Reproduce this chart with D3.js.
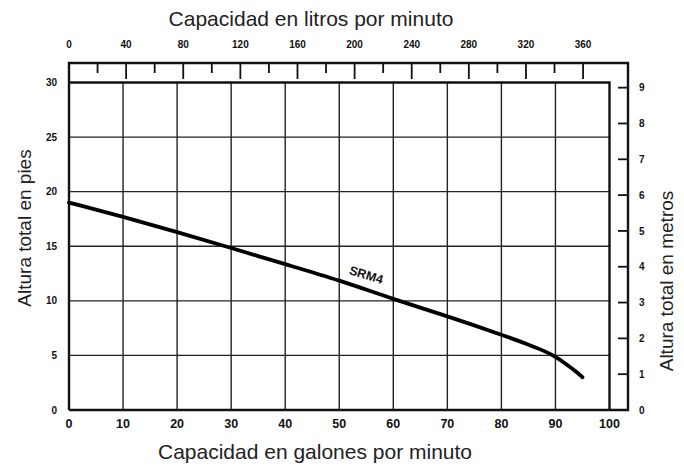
<!DOCTYPE html>
<html>
<head>
<meta charset="utf-8">
<script src="https://cdn.jsdelivr.net/npm/d3@7"></script>
<style>
  body { margin: 0; background: #fff; }
  svg { display: block; font-family: 'Liberation Sans', Arial, sans-serif; }
  .tick-label { font-weight: bold; fill: #111; }
  .title { fill: #222; }
</style>
</head>
<body>
<div id="chart"></div>
<script>
// curve SRM4: capacity (gal/min) vs total head (ft)
const gallons = [0, 10, 20, 30, 40, 50, 60, 70, 80, 85, 88, 90, 92, 94, 95];
const feet = [19, 17.7, 16.3, 14.85, 13.35, 11.9, 10.15, 8.6, 6.9, 6.0, 5.4, 4.9, 4.2, 3.45, 3.0];

const galTicks = [0, 10, 20, 30, 40, 50, 60, 70, 80, 90, 100];
const feetTicks = [0, 5, 10, 15, 20, 25, 30];
const litreTicks = [20, 40, 60, 80, 100, 120, 140, 160, 180, 200, 220, 240, 260, 280, 300, 320, 340, 360];
const litreLabels = [0, 40, 80, 120, 160, 200, 240, 280, 320, 360];
const metreTicks = [0, 1, 2, 3, 4, 5, 6, 7, 8, 9];

const LITRES_PER_GAL = 3.785;
const FEET_PER_METRE = 3.2808;

const width = 684;
const height = 468;
const plot = { left: 69, right: 609.5, top: 82.5, bottom: 410 };
const outer = { top: 63, right: 628 };

const x = d3.scaleLinear().domain([0, 100]).range([plot.left, plot.right]);
const y = d3.scaleLinear().domain([0, 30]).range([plot.bottom, plot.top]);
const xLitre = (l) => x(l / LITRES_PER_GAL);
const yMetre = (m) => y(m * FEET_PER_METRE);

const svg = d3.select('#chart').append('svg')
  .attr('width', width)
  .attr('height', height)
  .attr('viewBox', [0, 0, width, height]);

/* GRID */

const grid = svg.append('g')
  .attr('stroke', '#222')
  .attr('stroke-width', 1.4);

grid.selectAll('.vgrid')
  .data(galTicks.slice(1, -1))
  .join('line')
  .attr('x1', (d) => x(d))
  .attr('x2', (d) => x(d))
  .attr('y1', plot.top)
  .attr('y2', plot.bottom);

grid.selectAll('.hgrid')
  .data(feetTicks.slice(1, -1))
  .join('line')
  .attr('x1', plot.left)
  .attr('x2', plot.right)
  .attr('y1', (d) => y(d))
  .attr('y2', (d) => y(d));

/* FRAMES */

const frame = svg.append('g')
  .attr('fill', 'none')
  .attr('stroke', '#111')
  .attr('stroke-width', 2.4);

frame.append('path')
  .attr('d', `M${plot.left},${y(30)}H${plot.right}V${plot.bottom}`);

frame.append('path')
  .attr('d', `M${plot.left},${plot.bottom}V${outer.top}H${outer.right}V${plot.bottom}H${plot.left}`);

/* TOP AXIS (litres) */

svg.append('g')
  .attr('stroke', '#111')
  .attr('stroke-width', 1.8)
  .selectAll('line')
  .data(litreTicks)
  .join('line')
  .attr('x1', (d) => xLitre(d))
  .attr('x2', (d) => xLitre(d))
  .attr('y1', outer.top)
  .attr('y2', (d) => outer.top + (d % 40 === 0 ? 16 : 10));

svg.append('g')
  .selectAll('text')
  .data(litreLabels)
  .join('text')
  .attr('class', 'tick-label')
  .attr('x', (d) => xLitre(d))
  .attr('y', 48)
  .attr('text-anchor', 'middle')
  .attr('font-size', 10)
  .text((d) => d);

/* RIGHT AXIS (metres) */

svg.append('g')
  .attr('stroke', '#111')
  .attr('stroke-width', 1.8)
  .selectAll('line')
  .data(metreTicks.slice(1))
  .join('line')
  .attr('x1', outer.right - 10)
  .attr('x2', outer.right)
  .attr('y1', (d) => yMetre(d))
  .attr('y2', (d) => yMetre(d));

svg.append('g')
  .selectAll('text')
  .data(metreTicks)
  .join('text')
  .attr('class', 'tick-label')
  .attr('x', 639)
  .attr('y', (d) => yMetre(d))
  .attr('dy', '0.36em')
  .attr('font-size', 10)
  .text((d) => d);

/* LEFT AXIS (feet) */

svg.append('g')
  .selectAll('text')
  .data(feetTicks)
  .join('text')
  .attr('class', 'tick-label')
  .attr('x', 57)
  .attr('y', (d) => y(d))
  .attr('dy', '0.36em')
  .attr('text-anchor', 'end')
  .attr('font-size', 10)
  .text((d) => d);

/* BOTTOM AXIS (gallons) */

svg.append('g')
  .selectAll('text')
  .data(galTicks)
  .join('text')
  .attr('class', 'tick-label')
  .attr('x', (d) => x(d))
  .attr('y', 423)
  .attr('dy', '0.36em')
  .attr('text-anchor', 'middle')
  .attr('font-size', 12.5)
  .text((d) => d);

/* TITLES */

svg.append('text')
  .attr('class', 'title')
  .attr('x', 311)
  .attr('y', 26)
  .attr('text-anchor', 'middle')
  .attr('font-size', 21)
  .text('Capacidad en litros por minuto');

svg.append('text')
  .attr('class', 'title')
  .attr('x', 315)
  .attr('y', 459)
  .attr('text-anchor', 'middle')
  .attr('font-size', 21)
  .text('Capacidad en galones por minuto');

svg.append('text')
  .attr('class', 'title')
  .attr('transform', 'translate(31, 228) rotate(-90)')
  .attr('text-anchor', 'middle')
  .attr('font-size', 19)
  .text('Altura total en pies');

svg.append('text')
  .attr('class', 'title')
  .attr('transform', 'translate(673, 281) rotate(-90)')
  .attr('text-anchor', 'middle')
  .attr('font-size', 19)
  .text('Altura total en metros');

/* CURVE */

const line = d3.line()
  .x((d) => x(d[0]))
  .y((d) => y(d[1]))
  .curve(d3.curveBasis);

svg.append('path')
  .datum(d3.zip(gallons, feet))
  .attr('fill', 'none')
  .attr('stroke', '#000')
  .attr('stroke-width', 3.8)
  .attr('stroke-linecap', 'round')
  .attr('d', line);

svg.append('text')
  .attr('transform', 'translate(365, 279) rotate(17)')
  .attr('text-anchor', 'middle')
  .attr('font-size', 12.5)
  .attr('font-weight', 'bold')
  .attr('fill', '#111')
  .text('SRM4');
</script>
</body>
</html>
